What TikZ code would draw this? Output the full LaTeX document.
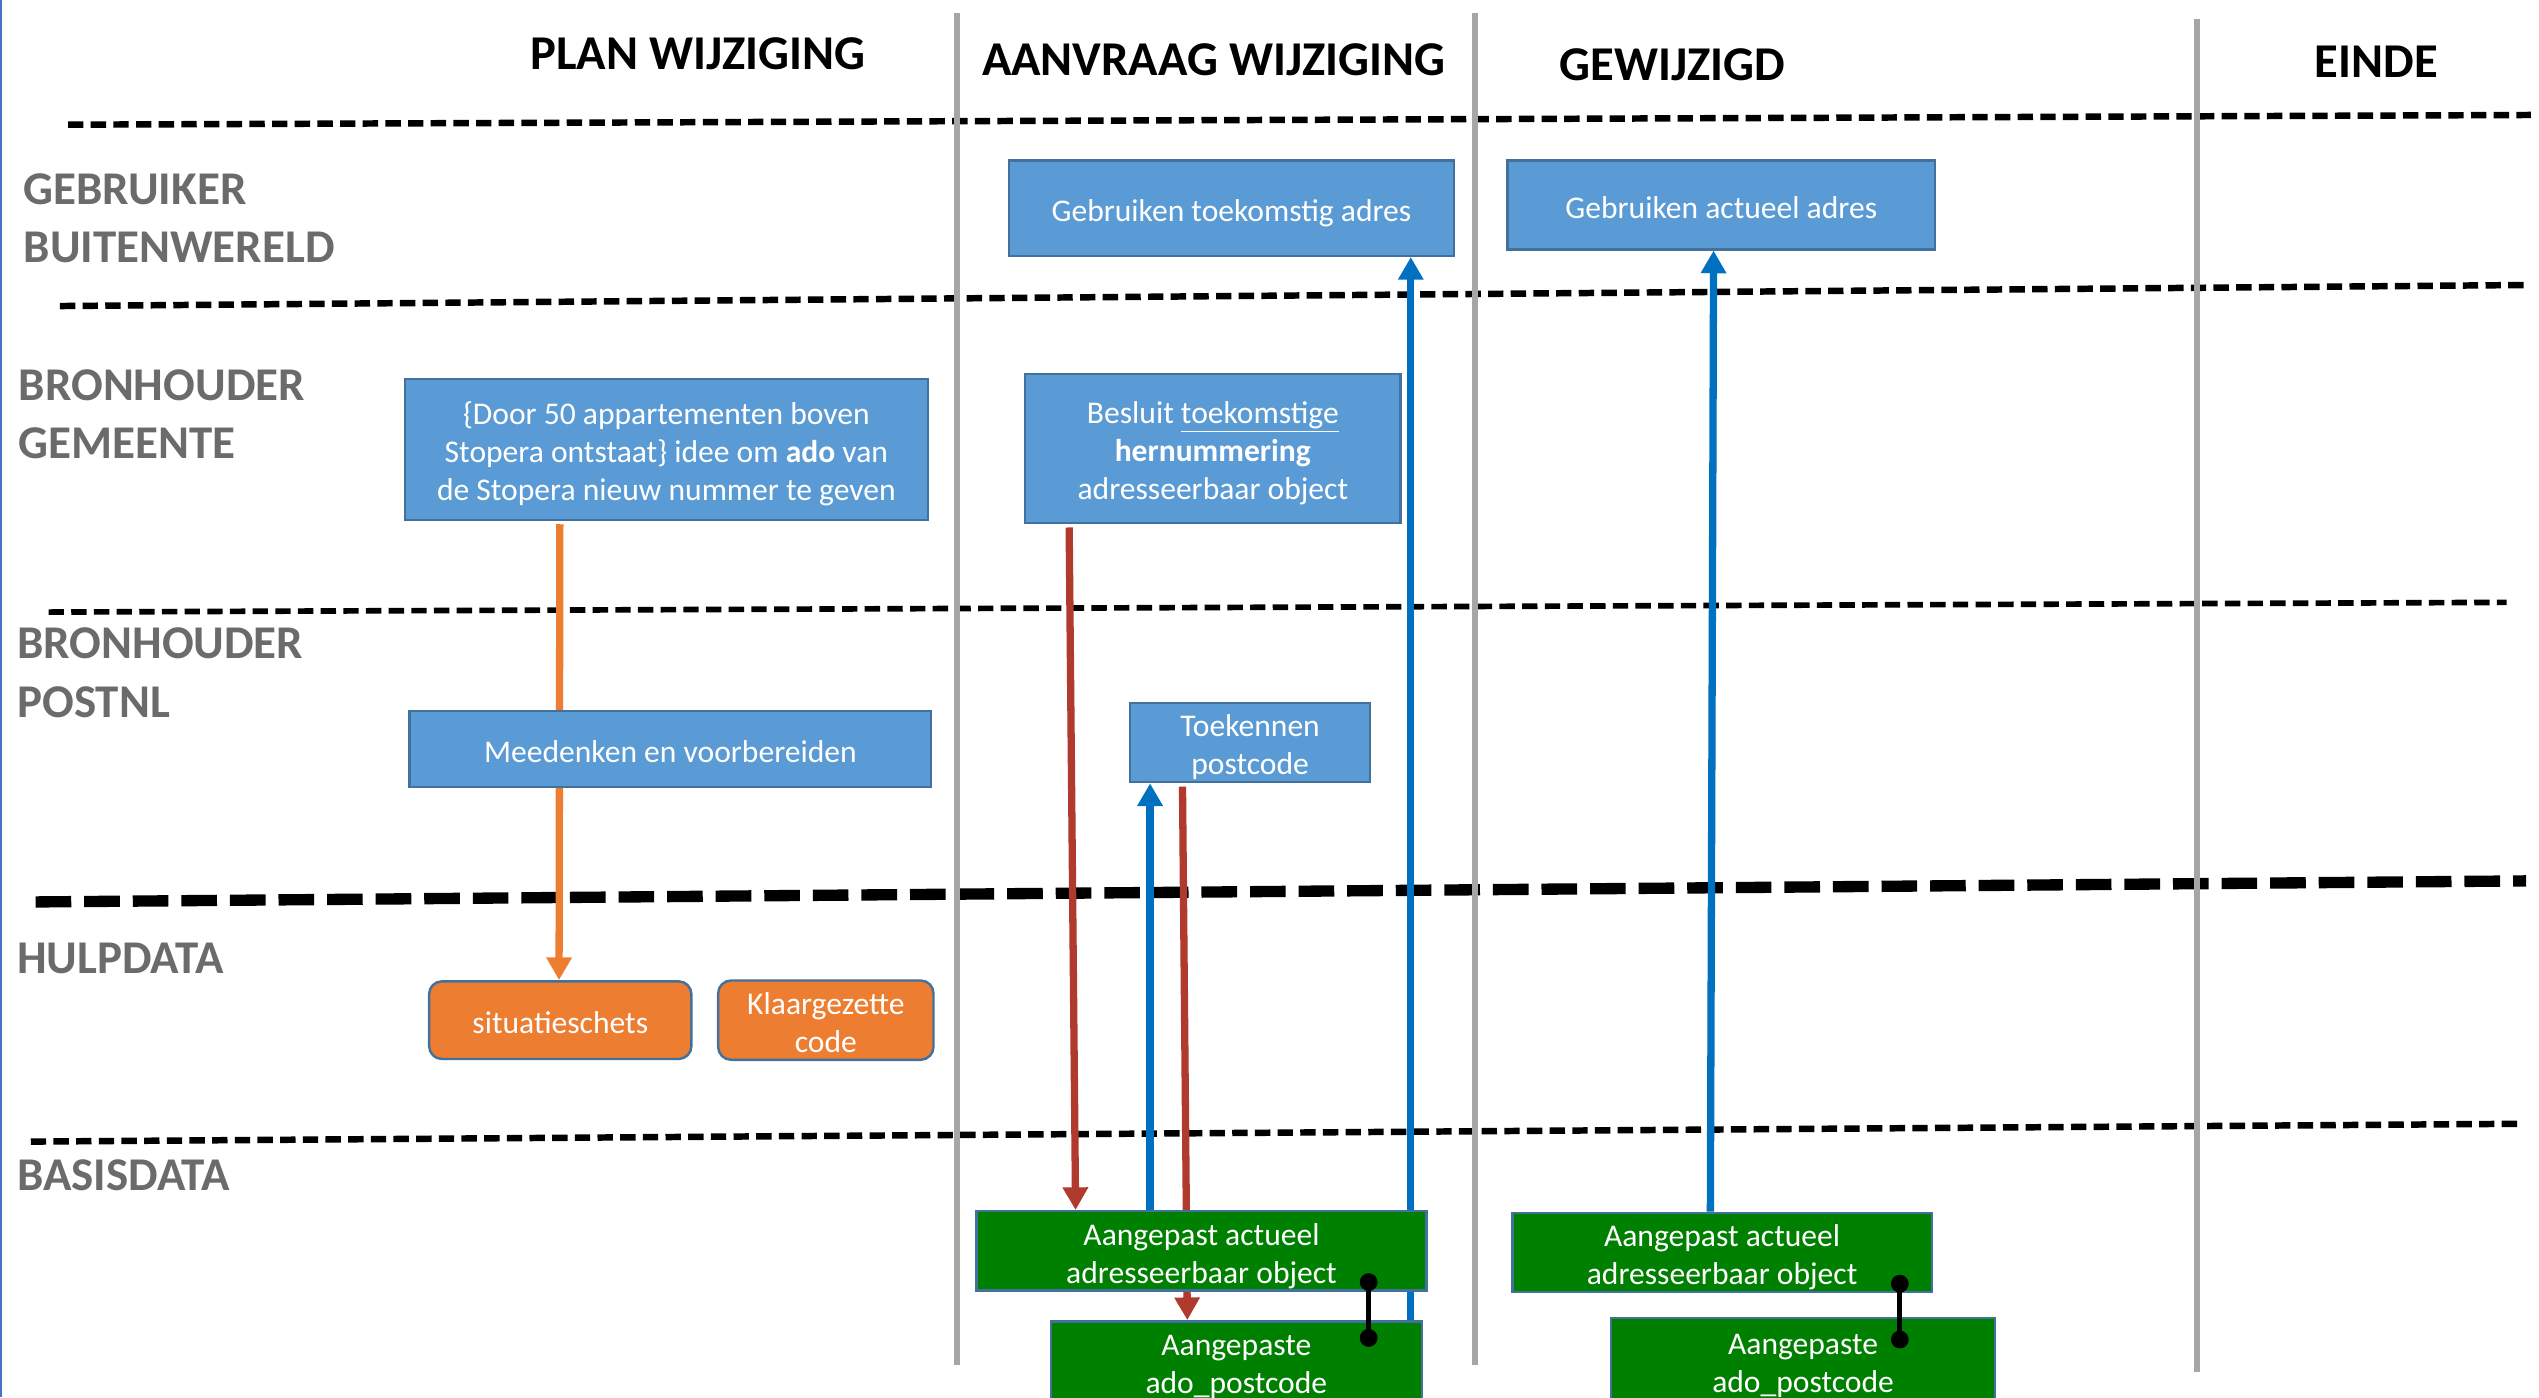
\documentclass[tikz,border=0pt]{standalone}
\usepackage{fontspec}
\setmainfont{Carlito}
\usetikzlibrary{arrows.meta,calc}

\definecolor{boxblue}{HTML}{5B9BD5}
\definecolor{edgeblue}{HTML}{41719C}
\definecolor{arrowblue}{HTML}{0070C0}
\definecolor{boxorange}{HTML}{ED7D31}
\definecolor{arrowred}{HTML}{B03A2E}
\definecolor{boxgreen}{HTML}{008000}
\definecolor{lanegray}{HTML}{A6A6A6}
\definecolor{labelgray}{HTML}{6B6B6B}
\definecolor{frameblue}{HTML}{4472C4}

\newcommand\fsz[2]{\fontsize{#1}{#2}\selectfont}
% struts that fix the first-line height and last-line depth of box texts
\newcommand\ts{\rule{0pt}{21pt}}
\newcommand\bs{\rule[-4.5pt]{0pt}{4.5pt}}

\pgfdeclarelayer{lanes}
\pgfdeclarelayer{links}
\pgfsetlayers{lanes,links,main}

\begin{document}
\begin{tikzpicture}[x=1pt,y=-1pt,
  head/.style={inner sep=0pt, font=\fsz{30}{36}\bfseries, text=black},
  lanelabel/.style={inner sep=0pt, anchor=west, align=left, font=\fsz{29}{36}\bfseries, text=labelgray},
  boxbase/.style={inner sep=0pt, align=center, text=white, font=\fsz{19.5}{23.5}, line width=1.5pt, draw=edgeblue},
  task/.style={boxbase, fill=boxblue},
  hulp/.style={boxbase, fill=boxorange, rounded corners=8pt},
  basis/.style={boxbase, fill=boxgreen},
  lanedash/.style={line width=4pt, dash pattern=on 9.5pt off 4.5pt},
  heavydash/.style={line width=7pt, dash pattern=on 22pt off 8pt},
  phase/.style={line width=3.7pt, draw=lanegray},
  tip/.style={-{Triangle[length=14pt,width=15pt]}},
  flowblue/.style={tip, line width=4.5pt, draw=arrowblue, fill=arrowblue},
  flowred/.style={tip, line width=4.5pt, draw=arrowred, fill=arrowred},
  floworange/.style={tip, line width=4.5pt, draw=boxorange, fill=boxorange},
  pinline/.style={line width=3pt, draw=black},
]
\useasboundingbox (0,0) rectangle (1568,863);

% phase headers
\node[head] (hplan)  at (431,33)    {PLAN WIJZIGING};
\node[head] (haanv)  at (749.5,37)  {AANVRAAG WIJZIGING};
\node[head] (hgew)   at (1033,40)   {GEWIJZIGD};
\node[head] (heinde) at (1467.5,38) {EINDE};

% swimlane labels
\node[lanelabel] (lgebr) at (14.5,135)  {GEBRUIKER\\BUITENWERELD};
\node[lanelabel] (lgem)  at (11.5,256)  {BRONHOUDER\\GEMEENTE};
\node[lanelabel] (lpost) at (10.5,415.5){BRONHOUDER\\POSTNL};
\node[lanelabel] (lhulp) at (10.5,592)  {HULPDATA};
\node[lanelabel] (lbas)  at (10.5,725.5){BASISDATA};

% activities
\node[task, minimum width=275, minimum height=59] (b1) at (760.5,128.5) {\ts Gebruiken toekomstig adres\bs};
\node[task, minimum width=264, minimum height=55] (b2) at (1063,126.5) {\ts Gebruiken actueel adres\bs};
\node[task, minimum width=323, minimum height=87] (b3) at (411.5,277.5)
  {\ts\{Door 50 appartementen boven\\Stopera ontstaat\} idee om \textbf{ado} van\\de Stopera nieuw nummer te geven\bs};
\node[task, minimum width=232, minimum height=92] (b4) at (749,277)
  {\ts Besluit \underline{toekomstige}\\\textbf{hernummering}\\adresseerbaar object\bs};
\node[task, minimum width=322, minimum height=47] (b5) at (414,462.5) {\ts Meedenken en voorbereiden\bs};
\node[task, minimum width=148, minimum height=47] (b6) at (772,458.5) {\ts Toekennen\\postcode\bs};

% auxiliary data
\node[hulp, minimum width=162, minimum height=48] (o1) at (346,630) {\ts situatieschets\bs};
\node[hulp, minimum width=133, minimum height=46] (o2) at (510,630) {\ts Klaargezette\\code\bs};

% base data
\node[basis, minimum width=278, minimum height=47] (g1) at (742,772.5) {\ts Aangepast actueel\\adresseerbaar object\bs};
\node[basis, minimum width=229, minimum height=49] (g2) at (763.5,840.5) {\ts Aangepaste\\ado\_postcode\bs};
\node[basis, minimum width=259, minimum height=47] (g3) at (1063.5,773.5) {\ts Aangepast actueel\\adresseerbaar object\bs};
\node[basis, minimum width=237, minimum height=52] (g4) at (1113.5,840) {\ts Aangepaste\\ado\_postcode\bs};

% lane separators and phase dividers
\begin{pgfonlayer}{lanes}
  \fill[white] (0,0) rectangle (1568,863);
  \draw[frameblue, line width=1.5pt] (0.75,0) -- (0.75,863);
  \draw[lanedash] (42,77) -- (1563,71);
  \draw[lanedash] (37,189) -- (1560,176);
  \draw[lanedash, line width=3.5pt] (30,378) -- (1548,372);
  \draw[heavydash] (22,557) -- (1560,544);
  \draw[lanedash] (19,705) -- (1556,694);
  \draw[phase] (591,8) -- (591,843);
  \draw[phase] (911,8) -- (911,843);
  \draw[phase] (1357,12) -- (1357,847);
\end{pgfonlayer}

% flows
\begin{pgfonlayer}{links}
  \draw[floworange, shorten <=2pt] ($(b3.south west)+(96.5,0)$) -- ($(o1.north west)+(81,0)$);
  \draw[flowred, shorten <=2pt] ($(b4.south west)+(28,0)$) -- ($(g1.north west)+(62,0)$);
  \draw[flowred, shorten <=2pt] ($(b6.south west)+(33,0)$) -- ($(g2.north west)+(85,0)$);
  \draw[flowblue] ($(g1.north west)+(108,0)$) -- ($(b6.south west)+(13,0)$);
  \draw[flowblue] ($(g2.north west)+(223,0)$) -- ($(b1.south west)+(249,0)$);
  \draw[flowblue] ($(g3.north west)+(123,0)$) -- ($(b2.south west)+(128,0)$);
\end{pgfonlayer}

% links between object and postcode
\coordinate (p1a) at ($(g1.south west)+(243,-6)$);
\coordinate (p1b) at ($(g2.north west)+(197,11)$);
\coordinate (p2a) at ($(g3.south west)+(240,-6)$);
\coordinate (p2b) at ($(g4.north west)+(179,14)$);
\draw[pinline] (p1a) -- (p1b);
\draw[pinline] (p2a) -- (p2b);
\foreach \p in {p1a,p1b,p2a,p2b} \fill (\p) circle[radius=5.5pt];
\end{tikzpicture}
\end{document}
